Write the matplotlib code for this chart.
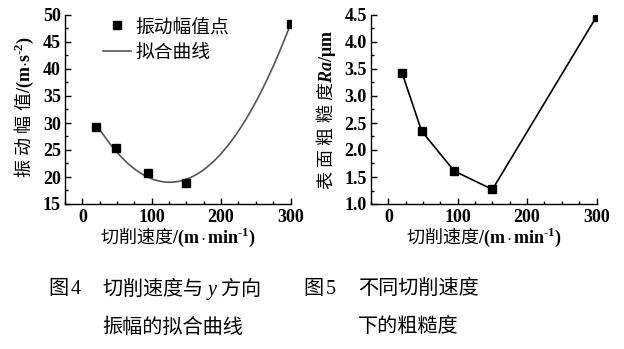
import numpy as np
import matplotlib.pyplot as plt
from matplotlib.ticker import MultipleLocator

# serif digits, CJK from Noto Sans; latin units through mathtext
plt.rcParams['font.family'] = ['Liberation Serif', 'Noto Sans CJK SC']
plt.rcParams['mathtext.fontset'] = 'custom'
plt.rcParams['mathtext.rm'] = 'Liberation Serif:regular'
plt.rcParams['mathtext.it'] = 'Liberation Serif:italic:regular'
plt.rcParams['mathtext.bf'] = 'Liberation Serif:bold'
plt.rcParams['mathtext.bfit'] = 'Liberation Serif:italic:bold'
plt.rcParams['mathtext.sf'] = 'Noto Sans CJK SC:regular'

# cutting speed (m/min)
speed = [20, 48, 95, 150, 300]
# vibration amplitude in y direction (m/s^2)
amplitude = [29.2, 25.4, 20.7, 18.8, 48.4]
# surface roughness Ra (um)
roughness = [3.42, 2.35, 1.61, 1.27, 4.47]

xticks = [0, 100, 200, 300]
amp_ticks = [15, 20, 25, 30, 35, 40, 45, 50]
ra_ticks = [1.0, 1.5, 2.0, 2.5, 3.0, 3.5, 4.0, 4.5]

W, H = 624, 349
fig = plt.figure(figsize=(W / 100, H / 100), dpi=100)


def style_axes(ax, yticks, yminor, yfmt):
    ax.spines['top'].set_visible(False)
    ax.spines['right'].set_visible(False)
    for s in ('left', 'bottom'):
        ax.spines[s].set_linewidth(1.0)
    ax.set_xlim(-25, 300)
    ax.set_xticks(xticks)
    ax.set_xticklabels([str(v) for v in xticks], fontweight='bold')
    ax.xaxis.set_minor_locator(MultipleLocator(25))
    ax.set_ylim(yticks[0], yticks[-1])
    ax.set_yticks(yticks)
    ax.set_yticklabels([yfmt.format(v) for v in yticks], fontweight='bold')
    ax.yaxis.set_minor_locator(MultipleLocator(yminor))
    ax.tick_params(which='both', direction='in', width=1.0, labelsize=13)
    ax.tick_params(which='major', length=4)
    ax.tick_params(which='minor', length=2.5)
    ax.tick_params(axis='y', pad=3)
    ax.tick_params(axis='x', pad=3.5)


# left: amplitude with quadratic fit
ax1 = fig.add_axes([65 / W, 145 / H, 225.5 / W, 189 / H])
coef = np.polyfit(speed, amplitude, 2)
xs = np.linspace(speed[0], speed[-1], 300)
ax1.plot(xs, np.polyval(coef, xs), color='#555555', lw=1.2, label='拟合曲线', zorder=2)
ax1.plot(speed, amplitude, 's', color='black', ms=5.5, label='振动幅值点', zorder=3)
style_axes(ax1, amp_ticks, 2.5, '{:.0f}')
h, l = ax1.get_legend_handles_labels()
ax1.legend(h[::-1], l[::-1], loc='upper left',
           bbox_to_anchor=(103 / W, 1 - 16 / H), bbox_transform=fig.transFigure,
           frameon=False, borderpad=0, borderaxespad=0, handlelength=1.5,
           handletextpad=0.25, labelspacing=0.25,
           prop={'family': 'Noto Sans CJK SC', 'weight': 'normal', 'size': 13.5})

# right: roughness
ax2 = fig.add_axes([371 / W, 145 / H, 225.5 / W, 189 / H])
ax2.plot(speed, roughness, '-s', color='black', lw=1.2, ms=5.5)
style_axes(ax2, ra_ticks, 0.25, '{:.1f}')

# axis titles
xlab = r'$\mathsf{切削速度}\mathbf{/(m\,{\cdot}\,min^{‐1})}$'
fig.text(177.5 / W, 1 - 237 / H, xlab, ha='center', va='center', fontsize=13)
fig.text(483.5 / W, 1 - 237 / H, xlab, ha='center', va='center', fontsize=13)
fig.text(24 / W, 1 - 107 / H, r'$\mathsf{振\ 动\ 幅\ 值}\mathbf{/(m{\cdot}s^{‐2})}$',
         rotation=90, ha='center', va='center', fontsize=13)
fig.text(326 / W, 1 - 110 / H, r'$\mathsf{表\ 面\ 粗\ 糙\ 度}\mathbfit{Ra}\mathbf{/\mu m}$',
         rotation=90, ha='center', va='center', fontsize=13)

# figure captions
cap = dict(family='Noto Sans CJK SC', weight='light', fontsize=14.5, va='center', ha='left')
fig.text(48 / W, 1 - 288 / H, r'图$\,\mathrm{4}$', **cap)
fig.text(102 / W, 1 - 288 / H, r'切削速度与 $y$ 方向', **cap)
fig.text(102 / W, 1 - 327 / H, '振幅的拟合曲线', **cap)
fig.text(303 / W, 1 - 288 / H, r'图$\,\mathrm{5}$', **cap)
fig.text(358 / W, 1 - 288 / H, '不同切削速度', **cap)
fig.text(358 / W, 1 - 327 / H, '下的粗糙度', **cap)

fig.savefig('out.png', dpi=100)
